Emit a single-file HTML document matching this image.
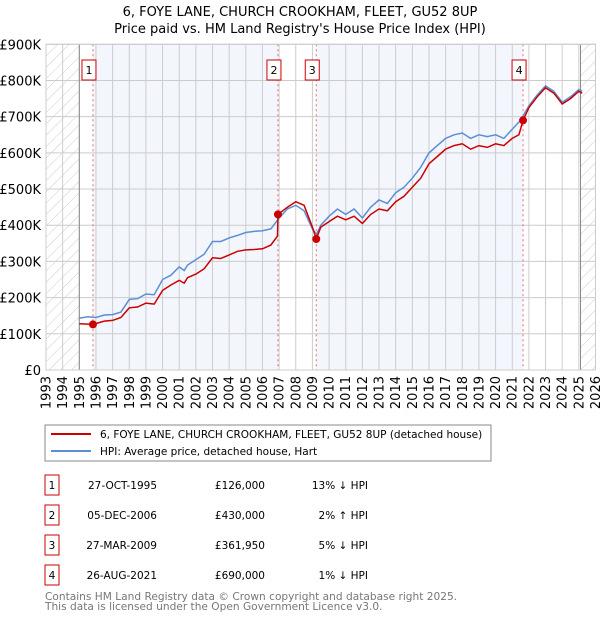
<!DOCTYPE html>
<html><head><meta charset="utf-8"><style>
body{margin:0;background:#fff;font-family:"DejaVu Sans","Liberation Sans",sans-serif;}
svg text{font-family:"DejaVu Sans","Liberation Sans",sans-serif;}
</style></head><body>
<svg id="c" width="600" height="620" viewBox="0 0 600 620" xmlns="http://www.w3.org/2000/svg">
<defs><pattern id="hatch" width="8" height="8" patternUnits="userSpaceOnUse" patternTransform="rotate(45)"><line x1="0" y1="0" x2="0" y2="8" stroke="#ccc" stroke-width="1"/></pattern></defs>
<text x="300" y="16" text-anchor="middle" font-size="13">6, FOYE LANE, CHURCH CROOKHAM, FLEET, GU52 8UP</text>
<text x="300" y="33" text-anchor="middle" font-size="13">Price paid vs. HM Land Registry's House Price Index (HPI)</text>
<g id="plot"></g>
<rect x="45" y="425" width="446" height="36" fill="#fff" stroke="#888"/>
<line x1="51" y1="434" x2="91" y2="434" stroke="#cc0000" stroke-width="2"/>
<text x="100" y="438" font-size="10.5">6, FOYE LANE, CHURCH CROOKHAM, FLEET, GU52 8UP (detached house)</text>
<line x1="51" y1="451" x2="91" y2="451" stroke="#5b8fd4" stroke-width="2"/>
<text x="100" y="455" font-size="10.5">HPI: Average price, detached house, Hart</text>
<g id="table" font-size="10.5"></g>
<text x="45" y="600" font-size="10.6" fill="#777">Contains HM Land Registry data © Crown copyright and database right 2025.</text>
<text x="45" y="610" font-size="10.6" fill="#777">This data is licensed under the Open Government Licence v3.0.</text>
</svg>
<script>
const hpiX=[1995.0,1995.5,1996.0,1996.5,1997.0,1997.5,1998.0,1998.5,1999.0,1999.5,2000.0,2000.5,2001.0,2001.3,2001.5,2002.0,2002.5,2003.0,2003.5,2004.0,2004.5,2005.0,2005.5,2006.0,2006.5,2007.0,2007.5,2008.0,2008.5,2009.0,2009.25,2009.5,2010.0,2010.5,2011.0,2011.5,2012.0,2012.5,2013.0,2013.5,2014.0,2014.5,2015.0,2015.5,2016.0,2016.5,2017.0,2017.5,2018.0,2018.5,2019.0,2019.5,2020.0,2020.5,2021.0,2021.5,2022.0,2022.5,2023.0,2023.5,2024.0,2024.5,2025.0,2025.2];
const hpiV=[143,147,145,152,153,160,195,197,210,208,250,262,285,275,290,305,320,355,355,365,372,380,383,385,390,420,445,455,440,390,375,400,425,445,430,445,420,450,470,460,490,505,530,560,600,620,640,650,655,640,650,645,650,640,665,690,730,760,785,770,740,755,775,770];
const propX=[1995.0,1995.82,1996.5,1997.0,1997.5,1998.0,1998.5,1999.0,1999.5,2000.0,2000.5,2001.0,2001.3,2001.5,2002.0,2002.5,2003.0,2003.5,2004.0,2004.5,2005.0,2005.5,2006.0,2006.5,2006.9,2006.93,2007.5,2008.0,2008.5,2009.0,2009.23,2009.5,2010.0,2010.5,2011.0,2011.5,2012.0,2012.5,2013.0,2013.5,2014.0,2014.5,2015.0,2015.5,2016.0,2016.5,2017.0,2017.5,2018.0,2018.5,2019.0,2019.5,2020.0,2020.5,2021.0,2021.4,2021.65,2022.0,2022.5,2023.0,2023.5,2024.0,2024.5,2025.0,2025.2];
const propV=[128,126,135,137,145,172,174,185,182,220,235,248,240,255,265,280,310,308,318,328,332,333,335,345,370,430,450,465,455,395,362,395,410,425,415,425,405,430,445,440,465,480,505,530,570,590,610,620,625,610,620,615,625,620,640,650,690,725,755,780,765,735,750,770,765];
const saleLabels=["1","2","3","4"];
const saleX=[1995.82,2006.93,2009.23,2021.65];
const saleV=[126,430,361.95,690];
const saleDates=["27-OCT-1995","05-DEC-2006","27-MAR-2009","26-AUG-2021"];
const salePrices=["£126,000","£430,000","£361,950","£690,000"];
const saleHpi=["13% ↓ HPI","2% ↑ HPI","5% ↓ HPI","1% ↓ HPI"];
const yTicks=[0,100,200,300,400,500,600,700,800,900];
const yTickLabels=["£0","£100K","£200K","£300K","£400K","£500K","£600K","£700K","£800K","£900K"];
const x0=46,x1=595.5,yr0=1993,yr1=2026,yB=370,yT=44.3;
const X=t=>x0+(t-yr0)*(x1-x0)/(yr1-yr0);
const Y=v=>yB-v*(yB-yT)/900;
const NS="http://www.w3.org/2000/svg";
const plot=document.getElementById('plot');
function mk(tag,at,parent){const e=document.createElementNS(NS,tag);for(const k in at)e.setAttribute(k,at[k]);(parent||plot).appendChild(e);return e;}
let e;
e=mk('rect',{x:x0,y:yT,width:x1-x0,height:yB-yT,fill:'#fff'});


e=mk('rect',{x:x0,y:yT,width:X(1995)-x0,height:yB-yT,fill:'url(#hatch)'});


e=mk('rect',{x:X(2025.1),y:yT,width:x1-X(2025.1),height:yB-yT,fill:'url(#hatch)'});


e=mk('rect',{x:X(saleX[0]),y:yT,width:X(saleX[1])-X(saleX[0]),height:yB-yT,fill:'#f3f6fd'});


e=mk('rect',{x:X(saleX[2]),y:yT,width:X(saleX[3])-X(saleX[2]),height:yB-yT,fill:'#f3f6fd'});


for(let t=yr0;t<=yr1;t++){
  e=mk('line',{x1:X(t),x2:X(t),y1:yT,y2:yB,stroke:'#ccc','stroke-width':1});
  
  
  e=mk('text',{x:0,y:0,transform:`translate(${X(t)+4.5},${yB+6}) rotate(-90)`,'text-anchor':'end','font-size':13});
  e.textContent=t;
  
  
}
yTicks.forEach((v,i)=>{
  e=mk('line',{x1:x0,x2:x1,y1:Y(v),y2:Y(v),stroke:'#ccc','stroke-width':1});
  
  
  e=mk('text',{x:41,y:Y(v)+5,'text-anchor':'end','font-size':13});
  e.textContent=yTickLabels[i];
  
  
});
e=mk('line',{x1:X(1995),x2:X(1995),y1:yT,y2:yB,stroke:'#888'});


e=mk('line',{x1:X(2025.1),x2:X(2025.1),y1:yT,y2:yB,stroke:'#888'});


saleX.forEach((t,i)=>{
  e=mk('line',{x1:X(t),x2:X(t),y1:yT,y2:yB,stroke:'#e66','stroke-width':1,'stroke-dasharray':'2,3'});
  
  
});
const pts=(xs,vs)=>xs.map((t,i)=>X(t).toFixed(1)+','+Y(vs[i]).toFixed(1)).join(' ');
e=mk('polyline',{points:pts(hpiX,hpiV),fill:'none',stroke:'#5b8fd4','stroke-width':1.5});


e=mk('polyline',{points:pts(propX,propV),fill:'none',stroke:'#cc0000','stroke-width':1.5});


saleX.forEach((t,i)=>{
  e=mk('circle',{cx:X(t),cy:Y(saleV[i]),r:4,fill:'#cc0000'});
  
  
  e=mk('rect',{x:X(t)-11,y:60,width:14,height:20,fill:'#fff',stroke:'#cc0000'});
  
  
  e=mk('text',{x:X(t)-4,y:74,'text-anchor':'middle','font-size':11});
  e.textContent=saleLabels[i];
  
  
});
e=mk('rect',{x:x0,y:yT,width:x1-x0,height:yB-yT,fill:'none',stroke:'#ccc'});


const tbl=document.getElementById('table');
saleLabels.forEach((l,i)=>{
  const cy=485+i*30;
  e=mk('rect',{x:45,y:cy-10,width:14,height:20,fill:'#fff',stroke:'#cc0000'},tbl);
  
  
  e=mk('text',{x:52,y:cy+4,'text-anchor':'middle'},tbl);e.textContent=l;
  
  
  e=mk('text',{x:157,y:cy+4,'text-anchor':'end'},tbl);e.textContent=saleDates[i];
  
  
  e=mk('text',{x:265,y:cy+4,'text-anchor':'end'},tbl);e.textContent=salePrices[i];
  
  
  e=mk('text',{x:368,y:cy+4,'text-anchor':'end'},tbl);e.textContent=saleHpi[i];
  
  
});
</script>
</body></html>
